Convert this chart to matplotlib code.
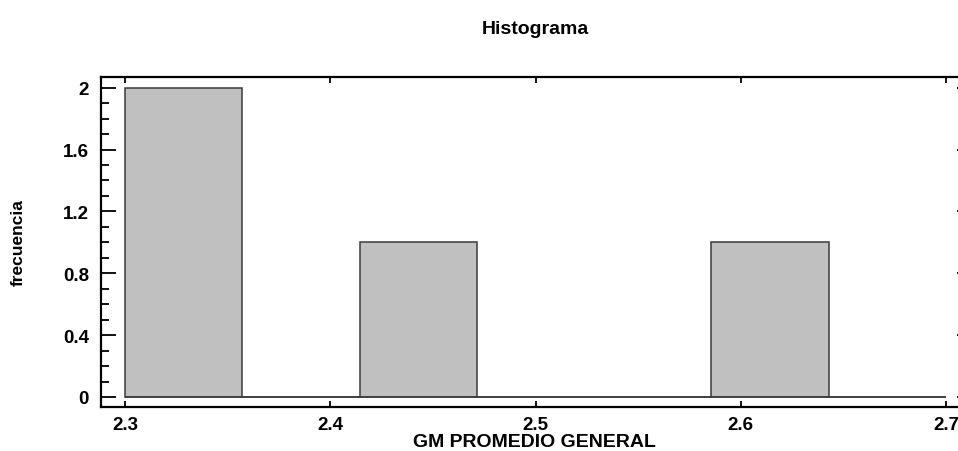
import matplotlib
matplotlib.use("Agg")
import matplotlib.pyplot as plt
from matplotlib.ticker import MultipleLocator, FixedLocator
import numpy as np

plt.rcParams['font.family'] = ['Liberation Sans', 'DejaVu Sans']

# Data
title = "Histograma"
x_label = "GM PROMEDIO GENERAL"
y_label = "frecuencia"
bin_lo = 2.3
bin_hi = 2.7
counts = [2, 0, 1, 0, 0, 1, 0]
x_ticks = [2.3, 2.4, 2.5, 2.6, 2.7]
x_tick_labels = ["2.3", "2.4", "2.5", "2.6", "2.7"]
y_ticks = [0, 0.4, 0.8, 1.2, 1.6, 2.0]
y_tick_labels = ["0", "0.4", "0.8", "1.2", "1.6", "2"]

n_bins = len(counts)
edges = np.linspace(bin_lo, bin_hi, n_bins + 1)
width = edges[1] - edges[0]

fig = plt.figure(figsize=(9.58, 4.52), dpi=100)
W, H = 958, 452
pos = [101 / W, 1 - 408 / H, 860 / W, 330 / H]
ax = fig.add_axes(pos)

ax.bar(edges[:-1], counts, width=width, align='edge',
       color='#c0c0c0', edgecolor='#3a3a3a', linewidth=1.1, zorder=2)
ax.hlines(0, edges[0], edges[-1], color='#3a3a3a', linewidth=1.1, zorder=3)

xlim = (2.2883, 2.7073)
ylim = (-0.0647, 2.069)
ax.set_xlim(*xlim)
ax.set_ylim(*ylim)

ax.xaxis.set_major_locator(FixedLocator(x_ticks))
ax.set_xticklabels(x_tick_labels)
ax.yaxis.set_major_locator(FixedLocator(y_ticks))
ax.set_yticklabels(y_tick_labels)
ax.yaxis.set_minor_locator(MultipleLocator(0.1))

for lab in ax.get_xticklabels() + ax.get_yticklabels():
    lab.set_fontweight('bold')
    lab.set_fontsize(13.5)

ax.tick_params(axis='x', which='major', direction='in', length=4.3, width=1.3,
               top=True, bottom=True, pad=6.5, colors='black')
ax.tick_params(axis='y', which='major', direction='in', length=10.8, width=1.3,
               left=True, right=False, pad=8.6)
ax.tick_params(axis='y', which='minor', direction='in', length=5.8, width=1.3,
               left=True, right=False)

for s in ax.spines.values():
    s.set_linewidth(1.6)
    s.set_color('black')

# short right-side ticks
ax2 = ax.twinx()
ax2.set_ylim(*ylim)
ax2.yaxis.set_major_locator(FixedLocator(y_ticks))
ax2.set_yticklabels([])
ax2.tick_params(axis='y', which='major', direction='in', length=3.2, width=1.3)
for s in ax2.spines.values():
    s.set_visible(False)

fig.text(535 / W, 1 - 30 / H, title, ha='center', va='center',
         fontsize=14, fontweight='bold')
fig.text(534 / W, 1 - 443 / H, x_label, ha='center', va='center',
         fontsize=14, fontweight='bold')
fig.text(18 / W, 1 - 243 / H, y_label, ha='center', va='center',
         rotation=90, fontsize=12.5, fontweight='bold')

fig.savefig("out.png", dpi=100)
